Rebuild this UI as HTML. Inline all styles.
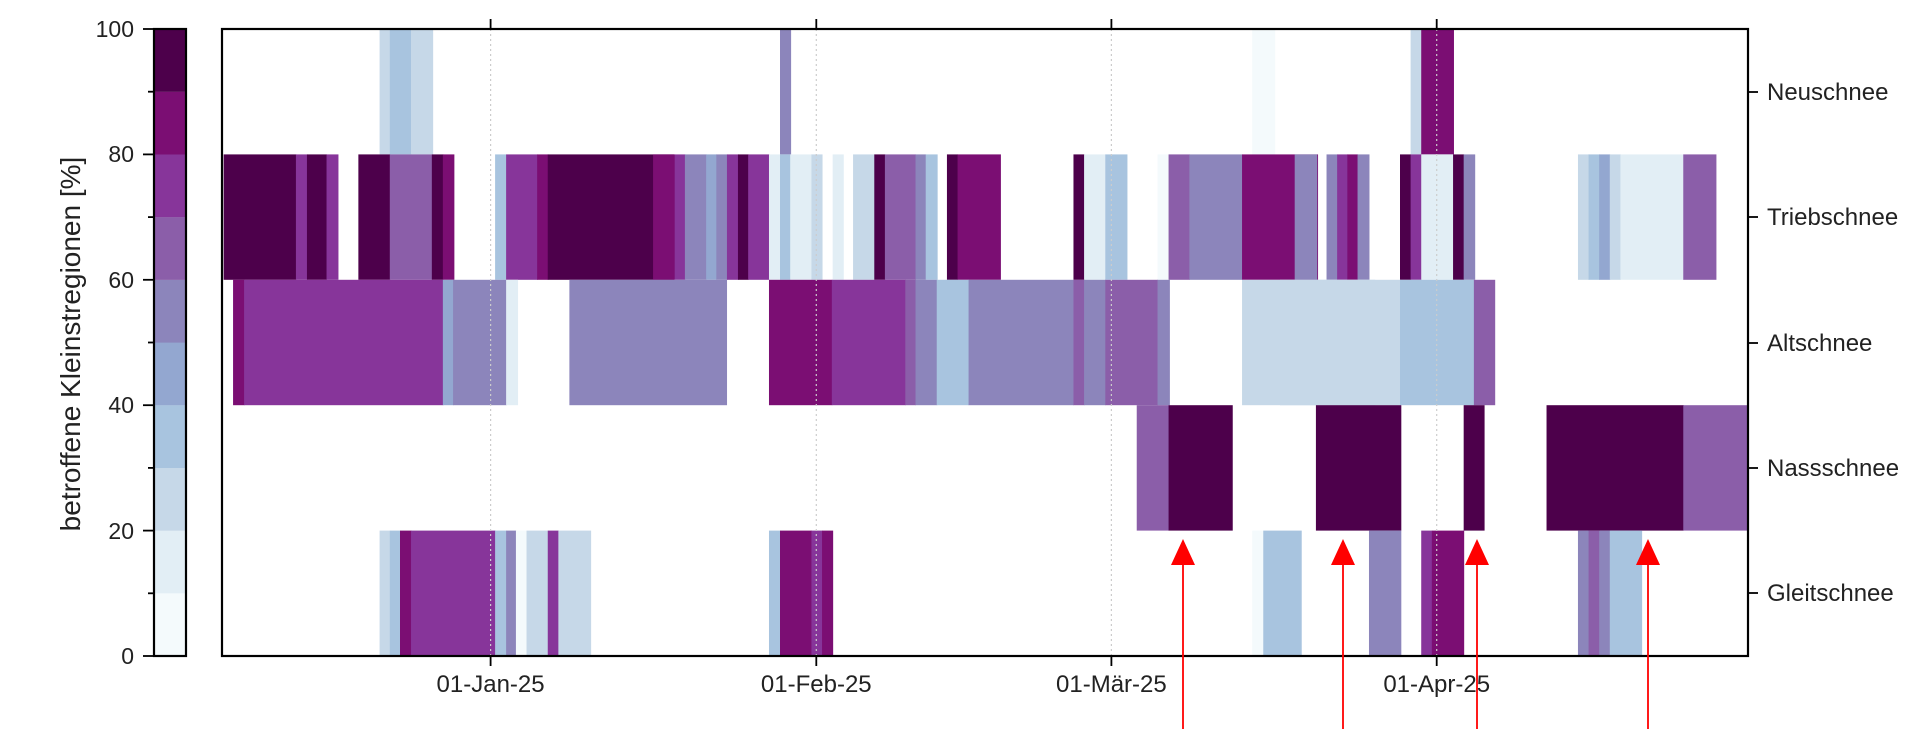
<!DOCTYPE html>
<html><head><meta charset="utf-8"><style>
html,body{margin:0;padding:0;background:#fff;}
svg{display:block;font-family:"Liberation Sans",sans-serif;}
</style></head><body>
<svg id="s" width="1920" height="729" viewBox="0 0 1920 729" xmlns="http://www.w3.org/2000/svg">
<g id="bars"></g>
<g id="cb"></g>
<g stroke="#ccc" stroke-width="1.2" stroke-dasharray="2,3">
<line x1="490.6" y1="29" x2="490.6" y2="656"/>
<line x1="816.3" y1="29" x2="816.3" y2="656"/>
<line x1="1111.4" y1="29" x2="1111.4" y2="656"/>
<line x1="1436.7" y1="29" x2="1436.7" y2="656"/>
</g>
<rect x="222" y="29" width="1526" height="627" fill="none" stroke="#000" stroke-width="2.2"/>
<rect x="154" y="29" width="32" height="627" fill="none" stroke="#000" stroke-width="2.2"/>
<g stroke="#000" stroke-width="1.8">
<line x1="490.6" y1="19" x2="490.6" y2="29"/><line x1="816.3" y1="19" x2="816.3" y2="29"/>
<line x1="1111.4" y1="19" x2="1111.4" y2="29"/><line x1="1436.7" y1="19" x2="1436.7" y2="29"/>
<line x1="490.6" y1="656" x2="490.6" y2="666"/><line x1="816.3" y1="656" x2="816.3" y2="666"/>
<line x1="1111.4" y1="656" x2="1111.4" y2="666"/><line x1="1436.7" y1="656" x2="1436.7" y2="666"/>
<line x1="1748" y1="92" x2="1758" y2="92"/><line x1="1748" y1="217" x2="1758" y2="217"/>
<line x1="1748" y1="343" x2="1758" y2="343"/><line x1="1748" y1="468" x2="1758" y2="468"/>
<line x1="1748" y1="593" x2="1758" y2="593"/>
</g>
<g id="cbt" stroke="#000" stroke-width="1.8"></g>
<g font-size="24" fill="#222" text-anchor="middle">
<text x="490.6" y="692">01-Jan-25</text>
<text x="816.3" y="692">01-Feb-25</text>
<text x="1111.4" y="692">01-Mär-25</text>
<text x="1436.7" y="692">01-Apr-25</text>
</g>
<g font-size="24" fill="#222">
<text x="1767" y="100">Neuschnee</text>
<text x="1767" y="225">Triebschnee</text>
<text x="1767" y="351">Altschnee</text>
<text x="1767" y="476">Nassschnee</text>
<text x="1767" y="601">Gleitschnee</text>
</g>
<g font-size="23" fill="#222" text-anchor="end">
<text x="134" y="37">100</text><text x="134" y="162">80</text>
<text x="134" y="288">60</text><text x="134" y="413">40</text>
<text x="134" y="539">20</text><text x="134" y="664">0</text>
</g>
<text transform="translate(80,344) rotate(-90)" font-size="28" fill="#222" text-anchor="middle">betroffene Kleinstregionen [%]</text>
<g id="arrows" fill="#f00" stroke="#f00"></g>
</svg>
<script>
var C=['#f4fafc','#e2eef5','#c6d8e8','#a8c4df','#93a7d0','#8c85bb','#8b5ea9','#87359a','#7b0e73','#4d004b'];
var off=[0,640,1280];
function X(z,v){return off[z]+v/2.45;}
var rows=[29,154.4,279.8,405.2,530.6];
var d=[
[0,[[0,930,955,2],[0,955,1007,3],[0,1007,1060,2],[1,343,369,5],[1,1500,1555,0],[2,320,346,2],[2,346,425,8]]],
[1,[[0,548,725,9],[0,725,752,7],[0,752,800,9],[0,800,828,7],[0,878,955,9],[0,955,1058,6],[0,1058,1085,9],[0,1085,1112,8],[0,1213,1240,3],[0,1240,1316,7],[0,1316,1342,8],[0,1342,1650,9],
[1,32,85,8],[1,85,110,7],[1,110,162,5],[1,162,187,4],[1,187,213,5],[1,213,240,7],[1,240,265,9],[1,265,316,7],[1,316,343,1],[1,343,368,3],[1,368,420,1],[1,420,446,2],[1,472,498,1],[1,522,574,2],[1,574,600,9],[1,600,675,6],[1,675,700,5],[1,700,728,3],[1,752,778,9],[1,778,883,8],[1,1062,1088,9],[1,1088,1140,1],[1,1140,1193,3],[1,1268,1295,0],[1,1295,1346,6],[1,1346,1475,5],[1,1475,1660,8],
[2,36,90,5],[2,114,140,5],[2,140,165,7],[2,165,190,8],[2,190,218,5],[2,294,320,9],[2,320,346,7],[2,346,424,1],[2,424,450,9],[2,450,477,5],[2,730,756,2],[2,756,782,3],[2,782,808,4],[2,808,834,2],[2,834,988,1],[2,988,1068,6]]],
[2,[[0,571,598,8],[0,598,1085,7],[0,1085,1110,4],[0,1110,1240,5],[0,1240,1268,1],[0,1395,1780,5],
[1,316,470,8],[1,470,650,7],[1,650,675,6],[1,675,727,5],[1,727,805,3],[1,805,1062,5],[1,1062,1088,6],[1,1088,1140,5],[1,1140,1268,6],[1,1268,1297,5],[1,1475,1800,2],
[2,0,294,2],[2,294,475,3],[2,475,526,6]]],
[3,[[1,1217,1295,6],[1,1295,1451,9],[2,88,296,9],[2,450,500,9],[2,653,988,9],[2,988,1145,6]]],
[4,[[0,930,955,2],[0,955,980,3],[0,980,1007,8],[0,1007,1213,7],[0,1213,1240,3],[0,1240,1264,5],[0,1264,1290,0],[0,1290,1342,2],[0,1342,1368,7],[0,1368,1447,2],
[1,316,343,3],[1,343,420,8],[1,420,446,7],[1,446,472,8],[1,1500,1527,0],[1,1527,1620,3],
[2,218,296,5],[2,346,372,7],[2,372,450,8],[2,730,756,5],[2,756,782,6],[2,782,808,5],[2,808,886,3]]]
];
var ns='http://www.w3.org/2000/svg',g=document.getElementById('bars');
function R(p,x,y,w,h,f){var r=document.createElementNS(ns,'rect');r.setAttribute('x',x);r.setAttribute('y',y);r.setAttribute('width',w);r.setAttribute('height',h);r.setAttribute('fill',f);p.appendChild(r);}
d.forEach(function(r){var y=rows[r[0]];r[1].forEach(function(s){var a=X(s[0],s[1]),b=Math.min(X(s[0],s[2]),1748);R(g,a,y,b-a+0.5,125.4,C[s[3]]);});});
var cb=document.getElementById('cb');
for(var i=0;i<10;i++){R(cb,154,656-(i+1)*62.7,32,62.8,C[i]);}
var t=document.getElementById('cbt');
for(var i=0;i<=10;i++){var y=656-i*62.7,l=document.createElementNS(ns,'line');l.setAttribute('x1',i%2?148:143);l.setAttribute('x2',154);l.setAttribute('y1',y);l.setAttribute('y2',y);t.appendChild(l);}
var ar=document.getElementById('arrows');
[1183,1343,1477,1648].forEach(function(x){var l=document.createElementNS(ns,'line');l.setAttribute('x1',x);l.setAttribute('x2',x);l.setAttribute('y1',560);l.setAttribute('y2',729);l.setAttribute('stroke-width','1.8');ar.appendChild(l);
var p=document.createElementNS(ns,'polygon');p.setAttribute('points',(x-12)+',565 '+x+',539 '+(x+12)+',565');p.setAttribute('stroke','none');ar.appendChild(p);});
</script>
</body></html>
